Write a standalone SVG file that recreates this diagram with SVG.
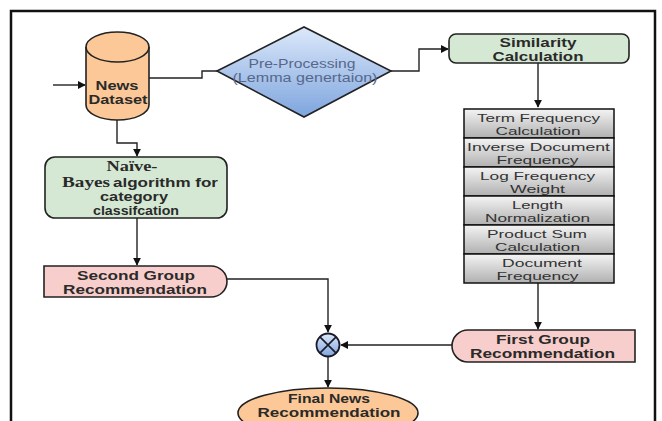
<svg xmlns="http://www.w3.org/2000/svg" width="662" height="421" viewBox="0 0 662 421">
<defs>
<style>
.b{font-family:"Liberation Sans",Arial,sans-serif;font-weight:bold;font-size:12px;fill:#2a2a2a;text-anchor:middle}
.s{font-family:"Liberation Serif","Times New Roman",serif;font-weight:bold;font-size:14px;fill:#2a2a2a;text-anchor:middle}
.n{font-family:"Liberation Sans",Arial,sans-serif;font-size:11.5px;fill:#333;text-anchor:middle}
.d{font-family:"Liberation Sans",Arial,sans-serif;font-size:12px;fill:#56688a;text-anchor:middle}
.c{fill:none;stroke:#222;stroke-width:1.4}
.cell{fill:url(#gcell);stroke:#111;stroke-width:1.5}
</style>
<linearGradient id="gblue" x1="0" y1="0" x2="0" y2="1"><stop offset="0" stop-color="#dce8fa"/><stop offset="1" stop-color="#7ea5de"/></linearGradient>
<linearGradient id="gcell" x1="0" y1="0" x2="0" y2="1"><stop offset="0" stop-color="#f4f4f4"/><stop offset="1" stop-color="#b0b0b0"/></linearGradient>
<marker id="ar" viewBox="0 0 10 10" refX="9" refY="5" markerWidth="8" markerHeight="8" markerUnits="userSpaceOnUse" orient="auto"><path d="M0,0 L10,5 L0,10 Z" fill="#111"/></marker>
</defs>
<rect width="662" height="421" fill="#fff"/>
<path d="M11,421 V11 H655 V421" fill="none" stroke="#111" stroke-width="2.5"/>

<g id="connectors">
<path class="c" d="M53,85 H85" marker-end="url(#ar)"/>
<path class="c" d="M149,78 H202 V71 H217"/>
<path class="c" d="M391,71 H419 V49 H448" marker-end="url(#ar)"/>
<path class="c" d="M117,120 V143 H137 V156" marker-end="url(#ar)"/>
<path class="c" d="M538,63 V107" marker-end="url(#ar)"/>
<path class="c" d="M137,218 V265" marker-end="url(#ar)"/>
<path class="c" d="M538,283 V329" marker-end="url(#ar)"/>
<path class="c" d="M452,345 H341" marker-end="url(#ar)"/>
<path class="c" d="M227,279 H328 V332" marker-end="url(#ar)"/>
<path class="c" d="M328,357 V387" marker-end="url(#ar)"/>
</g>

<g id="news-dataset">
<path d="M86,47 A31.5,15 0 0 1 149,47 L149,105 A31.5,15 0 0 1 86,105 Z" fill="#fcc897" stroke="#222" stroke-width="1.6"/>
<path d="M86,47 A31.5,15 0 0 0 149,47" fill="none" stroke="#222" stroke-width="1.6"/>
<text class="b" x="117" y="90" textLength="43" lengthAdjust="spacingAndGlyphs">News</text>
<text class="b" x="118" y="104" textLength="59" lengthAdjust="spacingAndGlyphs">Dataset</text>
</g>

<g id="preprocessing">
<polygon points="217,71 304,27 391,71 304,117" fill="url(#gblue)" stroke="#222" stroke-width="1.6"/>
<text class="d" x="302" y="68" textLength="107" lengthAdjust="spacingAndGlyphs">Pre-Processing</text>
<text class="d" x="305" y="82" textLength="145" lengthAdjust="spacingAndGlyphs">(Lemma genertaion)</text>
</g>

<g id="similarity">
<rect x="449" y="34" width="180" height="29" rx="7" fill="#d5e8d4" stroke="#222" stroke-width="1.6"/>
<text class="b" x="538" y="47" textLength="77" lengthAdjust="spacingAndGlyphs">Similarity</text>
<text class="b" x="538" y="60.5" textLength="91" lengthAdjust="spacingAndGlyphs">Calculation</text>
</g>

<g id="naive-bayes">
<rect x="45" y="157" width="182" height="61" rx="10" fill="#d5e8d4" stroke="#222" stroke-width="1.6"/>
<text class="s" x="132" y="171" textLength="51" lengthAdjust="spacingAndGlyphs">Naïve-</text>
<text class="s" x="86" y="187" textLength="48" lengthAdjust="spacingAndGlyphs">Bayes</text>
<text class="b" x="165.5" y="187" textLength="105" lengthAdjust="spacingAndGlyphs">algorithm for</text>
<text class="b" x="134" y="201" textLength="68" lengthAdjust="spacingAndGlyphs">category</text>
<text class="b" x="136" y="214.5" textLength="86" lengthAdjust="spacingAndGlyphs">classifcation</text>
</g>

<g id="stack">
<rect class="cell" x="464" y="109" width="150" height="29"/>
<rect class="cell" x="464" y="138" width="150" height="29"/>
<rect class="cell" x="464" y="167" width="150" height="29"/>
<rect class="cell" x="464" y="196" width="150" height="29"/>
<rect class="cell" x="464" y="225" width="150" height="29"/>
<rect class="cell" x="464" y="254" width="150" height="29"/>
<text class="n" x="538.5" y="121.5" textLength="123" lengthAdjust="spacingAndGlyphs">Term Frequency</text>
<text class="n" x="538" y="135" textLength="85" lengthAdjust="spacingAndGlyphs">Calculation</text>
<text class="n" x="538.5" y="150.5" textLength="143" lengthAdjust="spacingAndGlyphs">Inverse Document</text>
<text class="n" x="537.5" y="164" textLength="82" lengthAdjust="spacingAndGlyphs">Frequency</text>
<text class="n" x="537.5" y="179.5" textLength="115" lengthAdjust="spacingAndGlyphs">Log Frequency</text>
<text class="n" x="537.5" y="193" textLength="55" lengthAdjust="spacingAndGlyphs">Weight</text>
<text class="n" x="537.5" y="208.5" textLength="51" lengthAdjust="spacingAndGlyphs">Length</text>
<text class="n" x="537.5" y="222" textLength="105" lengthAdjust="spacingAndGlyphs">Normalization</text>
<text class="n" x="537" y="237.5" textLength="100" lengthAdjust="spacingAndGlyphs">Product Sum</text>
<text class="n" x="537.5" y="251" textLength="85" lengthAdjust="spacingAndGlyphs">Calculation</text>
<text class="n" x="542" y="266.5" textLength="80" lengthAdjust="spacingAndGlyphs">Document</text>
<text class="n" x="537.5" y="280" textLength="82" lengthAdjust="spacingAndGlyphs">Frequency</text>
</g>

<g id="first-group">
<path d="M635,330 V362 H468 A16,16 0 0 1 468,330 Z" fill="#f8cecc" stroke="#222" stroke-width="1.6"/>
<text class="b" x="543" y="344" textLength="94" lengthAdjust="spacingAndGlyphs">First Group</text>
<text class="b" x="542.5" y="358" textLength="145" lengthAdjust="spacingAndGlyphs">Recommendation</text>
</g>

<g id="second-group">
<path d="M44,266 H211 A16,15.5 0 0 1 211,297 H44 Z" fill="#f8cecc" stroke="#222" stroke-width="1.6"/>
<text class="b" x="136" y="280" textLength="118" lengthAdjust="spacingAndGlyphs">Second Group</text>
<text class="b" x="135" y="294" textLength="144" lengthAdjust="spacingAndGlyphs">Recommendation</text>
</g>

<g id="combine">
<circle cx="328" cy="345" r="11.5" fill="url(#gblue)" stroke="#1a1a2a" stroke-width="1.8"/>
<path d="M319.9,336.9 L336.1,353.1 M336.1,336.9 L319.9,353.1" stroke="#1a1a2a" stroke-width="1.6"/>
</g>

<g id="final-news">
<ellipse cx="328" cy="413" rx="90" ry="25" fill="#fcc897" stroke="#222" stroke-width="1.6"/>
<text class="b" x="329" y="403" textLength="82" lengthAdjust="spacingAndGlyphs">Final News</text>
<text class="b" x="329" y="417" textLength="143" lengthAdjust="spacingAndGlyphs">Recommendation</text>
</g>
</svg>
